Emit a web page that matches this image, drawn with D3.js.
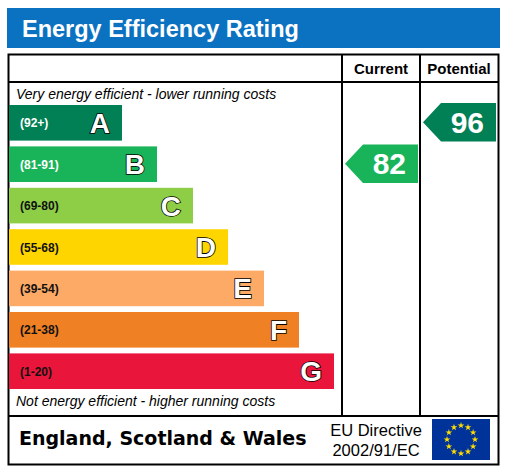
<!DOCTYPE html><html><head><meta charset="utf-8"><script src="https://cdn.jsdelivr.net/npm/d3@7"></script>
<style>body{margin:0;background:#fff}</style></head><body><svg id="c" width="509" height="467"></svg>
<script>
const bandLetters=["A","B","C","D","E","F","G"];
const bandRanges=["(92+)","(81-91)","(69-80)","(55-68)","(39-54)","(21-38)","(1-20)"];
const bandColors=["#008054","#19b459","#8dce46","#ffd500","#fcaa65","#ef8023","#e9153b"];
const bandWidths=[113,148,184,219,255,290,325];
const currentValue=82, potentialValue=96;
const ratingBands=[[92,100],[81,91],[69,80],[55,68],[39,54],[21,38],[1,20]];
const svg=d3.select("#c");
const F="Arial, Liberation Sans, sans-serif";
svg.append("rect").attr("x",7).attr("y",8).attr("width",493).attr("height",40).attr("fill","#0b72c1");
svg.append("text").attr("x",22).attr("y",37).attr("fill","#fff").attr("font-family",F).attr("font-weight","bold").attr("font-size",23.5).text("Energy Efficiency Rating");
svg.append("rect").attr("x",8.5).attr("y",54.5).attr("width",490).attr("height",410).attr("fill","none").attr("stroke","#000").attr("stroke-width",2);
[[8,82,499,82],[8,416,499,416],[342,54,342,416],[420,54,420,416]].forEach(l=>svg.append("line").attr("x1",l[0]).attr("y1",l[1]).attr("x2",l[2]).attr("y2",l[3]).attr("stroke","#000").attr("stroke-width",2));
svg.append("text").attr("x",381).attr("y",74).attr("text-anchor","middle").attr("font-family",F).attr("font-weight","bold").attr("font-size",15).text("Current");
svg.append("text").attr("x",459).attr("y",74).attr("text-anchor","middle").attr("font-family",F).attr("font-weight","bold").attr("font-size",15).text("Potential");
svg.append("text").attr("x",16).attr("y",99).attr("font-family",F).attr("font-style","italic").attr("font-size",14).text("Very energy efficient - lower running costs");
svg.append("text").attr("x",16).attr("y",406).attr("font-family",F).attr("font-style","italic").attr("font-size",14).text("Not energy efficient - higher running costs");
const y=d3.scaleBand().domain(bandLetters).range([105,389]).paddingInner(0.14);
const x=d3.scaleLinear().domain([0,1]).range([9,10]);
bandLetters.forEach((L,i)=>{
 const yy=y(L),h=y.bandwidth();
 svg.append("rect").attr("x",9).attr("y",yy).attr("width",x(bandWidths[i])-9).attr("height",h).attr("fill",bandColors[i]);
 svg.append("text").attr("x",20).attr("y",yy+h/2+4.5).attr("font-family",F).attr("font-weight","bold").attr("font-size",12).attr("fill",i<2?"#fff":"#111").text(bandRanges[i]);
 svg.append("text").attr("x",x(bandWidths[i])-12).attr("y",yy+h/2+10).attr("text-anchor","end").attr("font-family",F).attr("font-weight","bold").attr("font-size",28).attr("fill","#fff").attr("stroke","#000").attr("stroke-width",1.6).attr("paint-order","stroke").text(L);
});
function arrow(val,x0,x1){
 const i=ratingBands.findIndex(r=>val>=r[0]&&val<=r[1]);
 const yy=y(bandLetters[i])-2,h=y.bandwidth()+3;
 svg.append("path").attr("d",`M${x0},${yy+h/2}L${x0+18},${yy}H${x1}V${yy+h}H${x0+18}Z`).attr("fill",bandColors[i]);
 svg.append("text").attr("x",x1-12).attr("y",yy+h/2+10.5).attr("text-anchor","end").attr("font-family",F).attr("font-weight","bold").attr("font-size",30).attr("fill","#fff").text(val);
}
arrow(currentValue,345,418);
arrow(potentialValue,423,496);
svg.append("text").attr("x",19).attr("y",445).attr("font-family","Verdana, DejaVu Sans, sans-serif").attr("font-weight","bold").attr("font-size",19).text("England, Scotland & Wales");
svg.append("text").attr("x",376).attr("y",436).attr("text-anchor","middle").attr("font-family",F).attr("font-size",16.5).text("EU Directive");
svg.append("text").attr("x",376).attr("y",456).attr("text-anchor","middle").attr("font-family",F).attr("font-size",16.5).text("2002/91/EC");
svg.append("rect").attr("x",432).attr("y",419).attr("width",58).attr("height",41).attr("fill","#003399");
const star=d3.symbol().type(d3.symbolStar).size(14);
d3.range(12).forEach(k=>{const a=k*Math.PI/6;svg.append("path").attr("d",star).attr("fill","#ffdd00").attr("transform",`translate(${461+14*Math.sin(a)},${439.5-14*Math.cos(a)})`);});
</script></body></html>
